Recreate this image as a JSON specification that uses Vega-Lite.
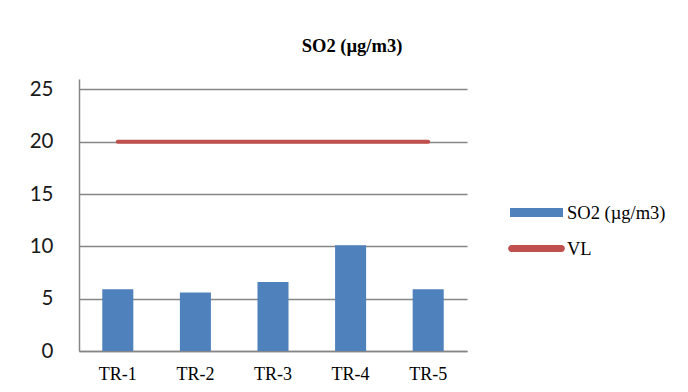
{
  "$schema": "https://vega.github.io/schema/vega-lite/v6.json",
  "width": 388,
  "height": 272,
  "autosize": {"type": "none"},
  "padding": {"left": 79, "top": 79, "right": 221, "bottom": 41},
  "background": "white",
  "title": {
    "text": "SO2 (µg/m3)",
    "font": "Liberation Serif",
    "fontSize": 18.5,
    "fontWeight": "bold",
    "color": "#000000",
    "anchor": "middle",
    "frame": "group",
    "dx": 79,
    "offset": 24
  },
  "data": {
    "values": [
      {"site": "TR-1", "so2": 5.9, "vl": 20},
      {"site": "TR-2", "so2": 5.6, "vl": 20},
      {"site": "TR-3", "so2": 6.6, "vl": 20},
      {"site": "TR-4", "so2": 10.1, "vl": 20},
      {"site": "TR-5", "so2": 5.9, "vl": 20}
    ]
  },
  "config": {
    "view": {"stroke": null},
    "axis": {"ticks": false, "title": null}
  },
  "encoding": {
    "x": {
      "field": "site",
      "type": "nominal",
      "sort": null,
      "scale": {"paddingInner": 0.6, "paddingOuter": 0.3},
      "axis": {
        "labelAngle": 0,
        "labelFont": "Liberation Serif",
        "labelFontSize": 18,
        "labelColor": "#000000",
        "labelPadding": 14,
        "domainColor": "#868686",
        "domainWidth": 1.5,
        "grid": false
      }
    }
  },
  "layer": [
    {
      "mark": {"type": "bar", "color": "#4F81BD"},
      "encoding": {
        "y": {
          "field": "so2",
          "type": "quantitative",
          "scale": {"domain": [0, 25]},
          "axis": {
            "values": [0, 5, 10, 15, 20, 25],
            "labelFont": "Lato",
            "labelFontSize": 20.5,
            "labelColor": "#1a1a1a",
            "labelPadding": 26,
            "domainColor": "#868686",
            "domainWidth": 1.5,
            "grid": true,
            "gridColor": "#868686",
            "gridWidth": 1.5
          }
        },
        "color": {
          "datum": "SO2 (µg/m3)",
          "scale": {"domain": ["SO2 (µg/m3)", "VL"], "range": ["#4F81BD", "#C0504D"]},
          "legend": {
            "orient": "none",
            "legendX": 431,
            "legendY": 107,
            "title": null,
            "padding": 0,
            "rowPadding": 0,
            "symbolSize": 2809,
            "symbolStrokeWidth": 0,
            "labelFont": "Liberation Serif",
            "labelFontSize": 18.5,
            "labelColor": "#000000",
            "labelOffset": 4,
            "encode": {
              "symbols": {
                "update": {
                  "shape": {"signal": "datum.value === 'VL' ? 'M-0.94,-0.13H0.94A0.13,0.13 0 0 1 0.94,0.13H-0.94A0.13,0.13 0 0 1 -0.94,-0.13Z' : 'M-1,-0.17H1V0.17H-1Z'"},
                  "fill": {"scale": "color", "field": "value"},
                  "strokeWidth": {"value": 0}
                }
              }
            }
          }
        }
      }
    },
    {
      "mark": {"type": "line", "strokeWidth": 4, "strokeCap": "round"},
      "encoding": {
        "y": {"field": "vl", "type": "quantitative"},
        "color": {"datum": "VL"}
      }
    }
  ]
}
